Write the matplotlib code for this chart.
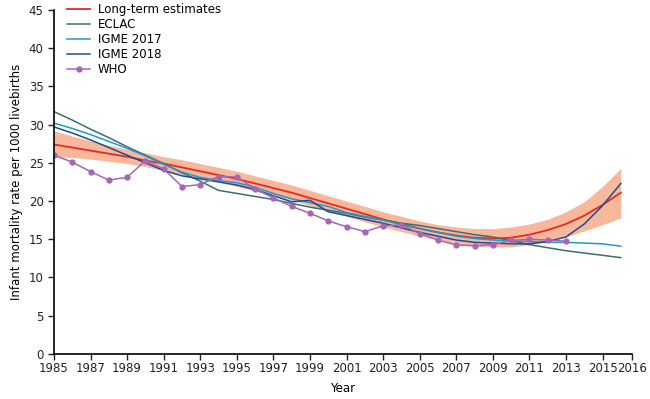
import matplotlib
matplotlib.use("Agg")
from matplotlib import pyplot as plt

# annual values
years = list(range(1985, 2017))

long_term = [27.4, 27.0, 26.6, 26.2, 25.8, 25.3, 24.9, 24.4, 23.9, 23.4,
             22.9, 22.3, 21.7, 21.1, 20.4, 19.7, 19.0, 18.3, 17.6, 17.0,
             16.4, 15.9, 15.5, 15.2, 15.1, 15.2, 15.6, 16.2, 17.0, 18.1,
             19.5, 21.1]
long_term_low = [25.8, 25.7, 25.5, 25.2, 24.9, 24.5, 24.0, 23.5, 23.0, 22.5,
                 21.9, 21.3, 20.7, 20.1, 19.4, 18.7, 18.0, 17.3, 16.6, 16.0,
                 15.4, 14.9, 14.4, 14.1, 14.0, 14.0, 14.3, 14.7, 15.3, 16.1,
                 16.9, 17.8]
long_term_high = [29.2, 28.5, 27.9, 27.3, 26.8, 26.3, 25.8, 25.4, 24.9, 24.4,
                  23.9, 23.3, 22.7, 22.1, 21.4, 20.7, 20.0, 19.3, 18.6, 18.0,
                  17.4, 16.9, 16.6, 16.4, 16.4, 16.6, 17.0, 17.6, 18.6, 19.9,
                  21.9, 24.3]

eclac = [31.7, 30.6, 29.4, 28.3, 27.1, 26.0, 24.9, 23.7, 22.6, 21.4,
         21.0, 20.6, 20.2, 19.7, 19.2, 18.8, 18.4, 17.9, 17.5, 17.1,
         16.8, 16.4, 16.0, 15.6, 15.3, 14.8, 14.3, 13.9, 13.5, 13.2,
         12.9, 12.6]

igme_2017 = [30.2, 29.5, 28.7, 27.8, 26.9, 25.9, 24.8, 23.8, 23.1, 22.7,
             22.4, 21.8, 21.0, 20.3, 19.8, 19.3, 18.5, 18.0, 17.5, 16.9,
             16.4, 15.9, 15.4, 15.1, 14.9, 14.8, 14.7, 14.6, 14.6, 14.5,
             14.4, 14.1]

igme_2018 = [29.7, 28.9, 28.0, 27.0, 26.0, 25.0, 24.0, 23.3, 22.9, 22.5,
             22.1, 21.5, 20.7, 19.9, 20.1, 18.6, 18.1, 17.6, 17.1, 16.5,
             15.9, 15.4, 14.9, 14.6, 14.5, 14.4, 14.4, 14.7, 15.3, 17.0,
             19.4, 22.3]

who_years = list(range(1985, 2014))
who = [26.0, 25.1, 23.85, 22.75, 23.1, 25.3, 24.2, 21.9, 22.15, 23.2,
       23.15, 21.6, 20.4, 19.3, 18.4, 17.4, 16.65, 16.0, 16.75, 16.9,
       15.75, 14.9, 14.25, 14.15, 14.3, 14.85, 15.0, 14.9, 14.75]

x_end = 2016.6
xtick_pos = list(range(1985, 2016, 2)) + [x_end]
xtick_labels = [str(y) for y in range(1985, 2016, 2)] + ["2016"]

plt.rcParams["font.family"] = ["DejaVu Sans"]
fig = plt.figure(figsize=(6.5, 3.99), dpi=100)
ax = fig.add_axes([0.083, 0.113, 0.889, 0.862])

ax.fill_between(years, long_term_low, long_term_high, color="#f9b79b", linewidth=0)
ax.plot(years, long_term, color="#e62a1f", linewidth=1.3, label="Long-term estimates")
ax.plot(years, eclac, color="#3d6e6c", linewidth=1.1, label="ECLAC")
ax.plot(years, igme_2017, color="#1c9bd4", linewidth=1.1, label="IGME 2017")
ax.plot(years, igme_2018, color="#1b4c9a", linewidth=1.1, label="IGME 2018")
ax.plot(who_years, who, color="#a666b6", linewidth=1.1, marker="o", markersize=3.5,
        label="WHO")

ax.set_xlim(1985, x_end)
ax.set_ylim(0, 45)
ax.set_xticks(xtick_pos)
ax.set_xticklabels(xtick_labels)
ax.set_yticks(range(0, 46, 5))
ax.spines["top"].set_visible(False)
ax.spines["right"].set_visible(False)
ax.spines["left"].set_linewidth(1.2)
ax.spines["bottom"].set_linewidth(1.2)
ax.tick_params(direction="out", length=4, width=1, labelsize=8.5, colors="#222222")
ax.tick_params(axis="x", pad=2)

ax.set_xlabel("Year", fontsize=8.5, labelpad=5)
ax.set_ylabel("Infant mortality rate per 1000 livebirths", fontsize=8.5, labelpad=4)

ax.legend(loc="upper left", bbox_to_anchor=(0.008, 1.045), frameon=False, fontsize=8.5,
          handlelength=2.0, handletextpad=0.6, labelspacing=0.18, borderaxespad=0.3)

fig.savefig("out.png", dpi=100)
